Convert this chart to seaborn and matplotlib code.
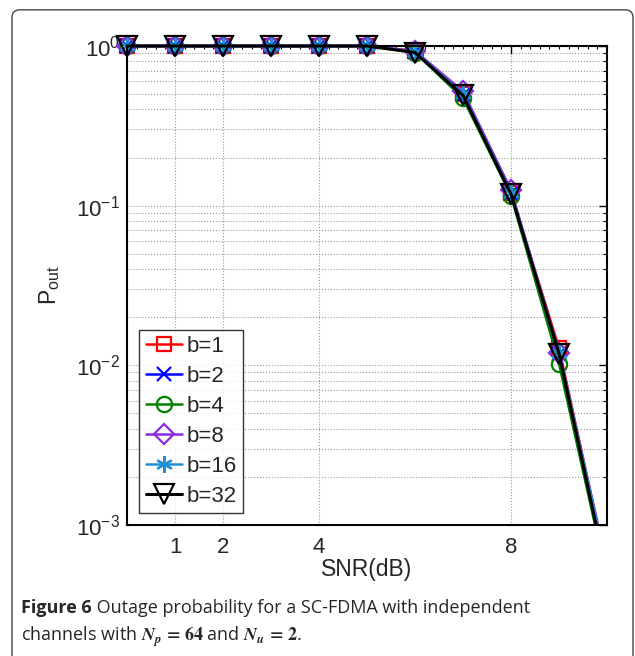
import numpy as np
import pandas as pd
import matplotlib
matplotlib.use("Agg")
import matplotlib.pyplot as plt
import seaborn as sns
from matplotlib.patches import FancyBboxPatch, Rectangle
from matplotlib.ticker import FixedLocator, MultipleLocator, LogLocator, NullFormatter

# data
snr = [0, 1, 2, 3, 4, 5, 6, 7, 8, 9, 10]
labels = ["b=1", "b=2", "b=4", "b=8", "b=16", "b=32"]
p_b1 = [1, 1, 1, 1, 1, 1, 0.93, 0.50, 0.120, 0.0128, 5.3e-4]
p_b2 = [1, 1, 1, 1, 1, 1, 0.92, 0.49, 0.120, 0.0118, 5.2e-4]
p_b4 = [1, 1, 1, 1, 1, 1, 0.91, 0.47, 0.115, 0.0102, 4.6e-4]
p_b8 = [1, 1, 1, 1, 1, 1, 0.93, 0.52, 0.125, 0.0120, 5.6e-4]
p_b16 = [1, 1, 1, 1, 1, 1, 0.92, 0.50, 0.120, 0.0120, 5.4e-4]
p_b32 = [1, 1, 1, 1, 1, 1, 0.91, 0.49, 0.118, 0.0118, 4.8e-4]
xticks = [1, 2, 4, 8]

series = [p_b1, p_b2, p_b4, p_b8, p_b16, p_b32]
colors = ["#ff0000", "#0000ff", "#008000", "#8a2be2", "#1f8fd6", "#000000"]
markers = ["s", "x", "o", "D", (6, 2, 0), "v"]
msizes = [10, 10, 11, 10, 12, 14]

sns.set_style("white")
plt.rcParams["font.family"] = ["Liberation Sans", "DejaVu Sans"]
plt.rcParams["mathtext.fontset"] = "custom"
plt.rcParams["mathtext.rm"] = "Liberation Sans"
plt.rcParams["mathtext.it"] = "Liberation Sans:italic"
plt.rcParams["mathtext.default"] = "regular"

fig = plt.figure(figsize=(6.35, 6.56), dpi=100)
ax = fig.add_axes([0.2, 0.2, 0.756, 0.7299])

df = pd.DataFrame({"snr": snr * len(labels),
                   "p": sum(series, []),
                   "b": np.repeat(labels, len(snr))})

for lab, c, m, ms in zip(labels, colors, markers, msizes):
    sub = df[df["b"] == lab]
    sns.lineplot(data=sub, x="snr", y="p", color=c, marker=m, markersize=ms,
                 markerfacecolor="none", markeredgecolor=c, markeredgewidth=1.6,
                 linewidth=2.2 if lab == "b=32" else 1.8, label=lab, ax=ax,
                 errorbar=None)

ax.set_yscale("log")
ax.set_xlim(0, 10)
ax.set_ylim(1e-3, 1)

# let markers on the top/left edges show, but cut the line at the bottom
clip = Rectangle((-0.05, 0), 1.1, 1.1, transform=ax.transAxes)
for ln in ax.lines:
    ln.set_clip_path(clip)

ax.xaxis.set_major_locator(FixedLocator(xticks))
ax.xaxis.set_minor_locator(MultipleLocator(0.2))
ax.yaxis.set_major_locator(LogLocator(base=10, numticks=10))
ax.yaxis.set_minor_locator(LogLocator(base=10, subs=np.arange(2, 10), numticks=10))
ax.yaxis.set_minor_formatter(NullFormatter())
ax.tick_params(which="both", direction="in", top=True, right=True,
               labelsize=16, color="black", pad=5)
ax.tick_params(axis="x", which="major", pad=9)
ax.tick_params(which="major", length=6, width=1)
ax.tick_params(which="minor", length=3, width=0.8)
ax.tick_params(axis="x", which="minor", length=2)
ax.grid(True, which="major", axis="both", linestyle=":", color="#999999", linewidth=0.8)
ax.grid(True, which="minor", axis="y", linestyle=":", color="#999999", linewidth=0.8)
for s in ax.spines.values():
    s.set_color("black")
    s.set_linewidth(1.5)
ax.set_axisbelow(True)

ax.set_xlabel("SNR(dB)", fontsize=16.5, labelpad=0)
ax.set_ylabel(r"P$_{\rm out}$", fontsize=16.5, labelpad=10)

leg = ax.legend(loc="lower left", bbox_to_anchor=(0.026, 0.024), fontsize=16,
                frameon=True, fancybox=False, handlelength=1.6, handletextpad=0.2,
                labelspacing=0.4, borderpad=0.3, borderaxespad=0)
leg.get_frame().set_edgecolor("black")
leg.get_frame().set_linewidth(1.0)

# caption with the rounded frame around the page
frame = FancyBboxPatch((12 / 635, -0.05), 621 / 635, 1.035, transform=fig.transFigure,
                       boxstyle="round,pad=0,rounding_size=0.012",
                       facecolor="none", edgecolor="#444444", linewidth=1.0)
fig.patches.append(frame)

cap_font = ["Open Sans", "DejaVu Sans"]
t1 = fig.text(21 / 635, 1 - 613 / 656, "Figure 6", fontsize=13, fontweight="bold",
              family=cap_font, va="baseline")
ax.annotate(" Outage probability for a SC-FDMA with independent", xy=(1, 0),
            xycoords=t1, va="bottom", ha="left", fontsize=13,
            family=cap_font, annotation_clip=False)
fig.text(21 / 635, 1 - 641 / 656,
         r"channels with $\mathbfit{N}_{\mathbfit{p}}\,\mathbf{=\,64}$ and "
         r"$\mathbfit{N}_{\mathbfit{u}}\,\mathbf{=\,2}$.",
         fontsize=13, family=cap_font, va="baseline", math_fontfamily="stix")

fig.savefig("out.png", dpi=100)
